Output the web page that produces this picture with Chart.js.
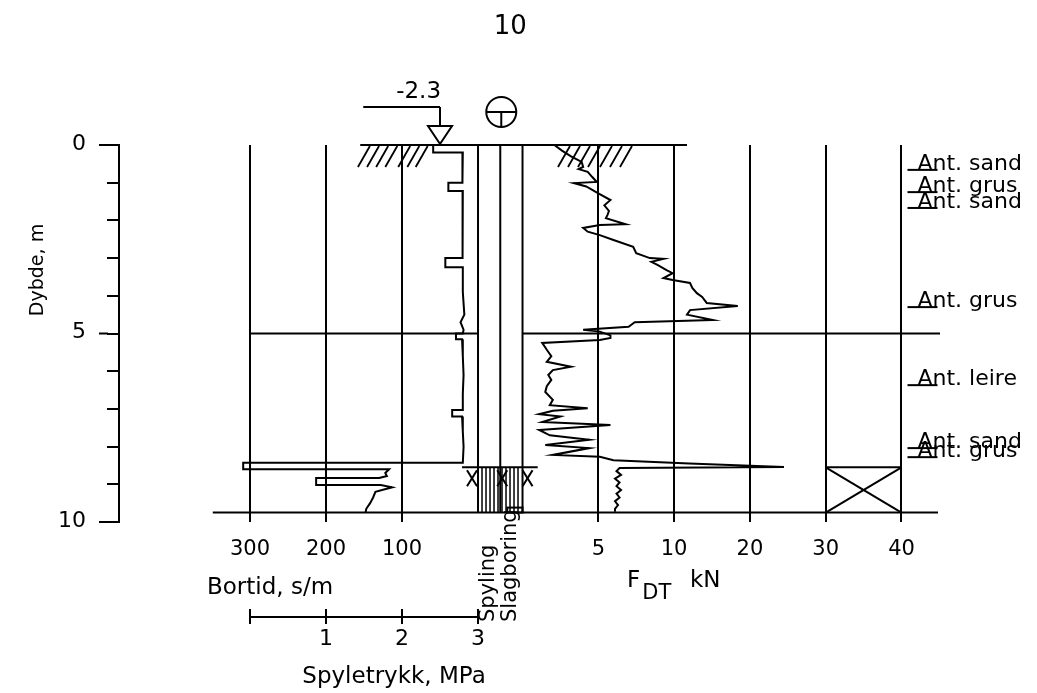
<!DOCTYPE html>
<html>
<head>
<meta charset="utf-8">
<script src="https://cdn.jsdelivr.net/npm/chart.js@4/dist/chart.umd.min.js"></script>
<style>
  html, body { margin: 0; padding: 0; background: #fff; }
  #wrap { width: 1037px; height: 693px; }
</style>
</head>
<body>
<div id="wrap"><canvas id="sounding" width="1037" height="693"></canvas></div>
<script>
// ---- data ----
const plotTitle = '10';
const groundwater = '-2.3';
const stopDepth = 9.75;
const flushStart = 8.55;

// Bortid (s/m) against depth (m)
const bortidDepth = [0, 0.2, 0.2, 0.6, 1.0, 1.0, 1.22, 1.22, 1.8, 2.4, 3.0, 3.0, 3.24, 3.24, 3.9, 4.5, 4.7, 4.9, 5.0, 5.0, 5.15, 5.15, 5.6, 6.1, 6.6, 7.03, 7.03, 7.2, 7.2, 7.6, 8.0, 8.43, 8.43, 8.6, 8.6, 8.7, 8.78, 8.83, 8.83, 9.02, 9.02, 9.08, 9.2, 9.35, 9.5, 9.65, 9.75];
const bortidTime  = [59, 59, 20, 21, 20, 39, 39, 20, 20, 21, 20, 43, 43, 20, 20, 18, 23, 19, 20, 29, 29, 21, 20, 19, 20, 20, 34, 34, 21, 20, 19, 20, 309, 309, 117, 122, 120, 130, 213, 213, 128, 113, 135, 138, 142, 147, 148];

// F_DT (kN) against depth (m)
const fdtDepth = [0.0, 0.15, 0.3, 0.45, 0.58, 0.64, 0.71, 0.85, 0.98, 1.01, 1.1, 1.19, 1.28, 1.46, 1.6, 1.75, 1.86, 1.94, 2.1, 2.12, 2.2, 2.3, 2.39, 2.52, 2.7, 2.87, 3.0, 3.02, 3.1, 3.18, 3.32, 3.4, 3.53, 3.58, 3.66, 3.79, 3.93, 4.03, 4.19, 4.27, 4.38, 4.5, 4.64, 4.7, 4.82, 4.9, 4.95, 5.05, 5.12, 5.17, 5.25, 5.43, 5.6, 5.75, 5.88, 5.97, 6.1, 6.23, 6.4, 6.55, 6.76, 6.9, 6.98, 7.05, 7.14, 7.2, 7.35, 7.43, 7.56, 7.7, 7.82, 7.96, 8.04, 8.22, 8.27, 8.36, 8.45, 8.54, 8.57, 8.65, 8.75, 8.85, 8.95, 9.05, 9.15, 9.25, 9.35, 9.45, 9.55, 9.65, 9.73];
const fdtForce = [2.1, 2.6, 3.2, 3.9, 4.0, 3.7, 4.3, 4.6, 4.9, 3.4, 4.2, 4.6, 5.0, 5.8, 5.4, 5.7, 5.6, 5.5, 6.8, 5.1, 4.0, 4.3, 5.1, 6.0, 7.3, 7.5, 8.4, 9.3, 8.5, 8.9, 9.5, 9.9, 9.3, 9.9, 12.1, 12.4, 13.0, 13.7, 14.3, 18.4, 12.1, 11.7, 15.1, 7.4, 7.0, 4.0, 5.1, 5.8, 5.8, 5.1, 1.3, 1.6, 1.9, 1.6, 3.2, 2.0, 1.7, 1.9, 1.6, 1.5, 2.0, 1.8, 4.3, 2.0, 1.1, 2.5, 1.3, 5.8, 1.1, 1.8, 4.4, 1.5, 4.4, 2.0, 5.1, 6.0, 12.0, 24.5, 6.4, 6.2, 6.5, 6.1, 6.4, 6.2, 6.5, 6.2, 6.4, 6.1, 6.3, 6.1, 6.1];

// soil notes on the right
const layerDepth = [0.66, 1.25, 1.67, 4.3, 6.37, 8.04, 8.28];
const layerLabel = ['Ant. sand', 'Ant. grus', 'Ant. sand', 'Ant. grus', 'Ant. leire', 'Ant. sand', 'Ant. grus'];

// axis ticks
const depthLabels = [0, 5, 10];
const bortidTicks = [300, 200, 100];
const fdtTicks = [5, 10, 20, 30, 40];
const pressureTicks = [1, 2, 3];

// F_DT axis is twice as dense above 10 kN
function fdtPlot(v) { return v <= 10 ? v : 10 + (v - 10) / 2; }
function fdtValue(t) { return t <= 10 ? t : 10 + (t - 10) * 2; }

const bortidPoints = bortidDepth.map((d, i) => ({ x: bortidTime[i], y: d }));
const fdtPoints = fdtDepth.map((d, i) => ({ x: fdtPlot(fdtForce[i]), y: d }));

const FONT = 'DejaVu Sans';
Chart.defaults.font.family = FONT;
Chart.defaults.color = '#000';

const drawExtras = {
  id: 'drawExtras',
  afterLayout(chart) {
    // let the bottom tick labels draw below the zero-height axes
    ['xB', 'xF'].forEach(id => { chart.scales[id].bottom = chart.height; });
  },
  afterDatasetsDraw(chart) {
    const ctx = chart.ctx;
    const a = chart.chartArea;
    const xB = chart.scales.xB, xF = chart.scales.xF, y = chart.scales.y;
    const bx = v => xB.getPixelForValue(v);
    const fx = v => xF.getPixelForValue(fdtPlot(v));
    const dy = d => y.getPixelForValue(d);
    const line = (x1, y1, x2, y2) => { ctx.beginPath(); ctx.moveTo(x1, y1); ctx.lineTo(x2, y2); ctx.stroke(); };
    const text = (s, x, yy, size, align, rot) => {
      ctx.save();
      ctx.font = size + 'px "' + FONT + '"';
      ctx.textAlign = align || 'center';
      ctx.textBaseline = 'middle';
      ctx.translate(x, yy);
      if (rot) ctx.rotate(rot);
      ctx.fillText(s, 0, 0);
      ctx.restore();
    };

    ctx.save();
    ctx.strokeStyle = '#000';
    ctx.fillStyle = '#000';
    ctx.lineWidth = 2;

    const x0 = bx(0), xr = fx(0), xm = (x0 + xr) / 2;

    // longer major ticks on the depth axis
    depthLabels.forEach(d => line(a.left - 20, dy(d), a.left - 11, dy(d)));

    // ground surface, 5 m line and stop depth
    line(bx(155), dy(0), fx(11.7), dy(0));
    line(bx(300), dy(5), x0, dy(5));
    line(xr, dy(5), a.right, dy(5));
    line(bx(349), dy(stopDepth), a.right - 2, dy(stopDepth));

    // centre column (Spyling / Slagboring)
    [x0, xm, xr].forEach(x => line(x, dy(0), x, dy(stopDepth)));
    line(bx(21), dy(flushStart), fx(1.0), dy(flushStart));
    ctx.lineWidth = 1.5;
    for (let x = x0 + 4; x < xr - 1; x += 4) line(x, dy(flushStart), x, dy(stopDepth));
    ctx.lineWidth = 2;
    ctx.strokeRect(xm + 7, dy(stopDepth) - 5, xr - xm - 7, 5);
    [x0 - 6, xm + 2, xr + 5].forEach(cx => {
      const t = dy(flushStart) + 3, b = t + 16;
      line(cx - 5, t, cx + 5, b);
      line(cx + 5, t, cx - 5, b);
    });

    // crossed box in F_DT field
    const bl = fx(30), br = fx(40), bt = dy(flushStart), bb = dy(stopDepth);
    line(bl, bt, br, bt);
    line(bl, bt, br, bb);
    line(bl, bb, br, bt);

    // ground hatching
    ctx.lineWidth = 1.8;
    [158, 146, 134, 122, 105, 93, 82].forEach(v => line(bx(v), dy(0) + 22, bx(v) + 12, dy(0) + 1));
    [2.34, 3.0, 3.66, 4.32, 5.11, 5.77, 6.43].forEach(v => line(fx(v), dy(0) + 22, fx(v) + 12, dy(0) + 1));
    ctx.lineWidth = 2;

    // groundwater symbol
    const gx = bx(50), gt = a.top;
    line(bx(151), gt - 38, gx, gt - 38);
    line(gx, gt - 38, gx, gt - 19);
    ctx.beginPath();
    ctx.moveTo(gx - 12, gt - 19);
    ctx.lineTo(gx + 12, gt - 19);
    ctx.lineTo(gx, gt - 1);
    ctx.closePath();
    ctx.stroke();
    text(groundwater, gx + 1, gt - 53, 23, 'right');

    // total sounding symbol
    const cx = xm + 1, cy = a.top - 33;
    ctx.beginPath();
    ctx.arc(cx, cy, 15, 0, Math.PI * 2);
    ctx.stroke();
    line(cx - 15, cy, cx + 15, cy);
    line(cx, cy, cx, cy + 15);

    // soil notes
    layerDepth.forEach((d, i) => {
      const ly = dy(d);
      line(br + 6, ly, br + 36, ly);
      ctx.save();
      ctx.font = '22px "' + FONT + '"';
      ctx.textAlign = 'left';
      ctx.textBaseline = 'alphabetic';
      ctx.fillText(layerLabel[i], br + 16, ly);
      ctx.restore();
    });

    // bottom legends
    const yb = a.bottom;
    text('Bortid, s/m', bx(300) - 43, yb + 66, 23, 'left');
    const py = yb + 95;
    line(bx(300), py, bx(0), py);
    line(bx(300), py - 8, bx(300), py + 7);
    pressureTicks.forEach(p => {
      const px = bx(300 - 100 * p);
      line(px, py - 8, px, py + 7);
      text(String(p), px, yb + 117, 22, 'center');
    });
    text('Spyletrykk, MPa', (bx(300) + bx(0)) / 2 + 30, yb + 155, 23, 'center');
    text('Spyling', x0 + 11, yb + 100, 21, 'left', -Math.PI / 2);
    text('Slagboring', xr - 12, yb + 100, 21, 'left', -Math.PI / 2);

    text('F', fx(6.9), yb + 59, 23, 'left');
    text('DT', fx(7.9), yb + 72, 21, 'left');
    text('kN', fx(12.1), yb + 59, 23, 'left');

    // title and depth axis title
    text(plotTitle, xm + 10, 27, 26, 'center');
    text('Dybde, m', 38, 270, 19, 'center', -Math.PI / 2);

    ctx.restore();
  }
};

const ctx = document.getElementById('sounding').getContext('2d');
new Chart(ctx, {
  type: 'scatter',
  data: {
    datasets: [
      {
        label: 'Bortid',
        data: bortidPoints,
        xAxisID: 'xB',
        yAxisID: 'y',
        showLine: true,
        borderColor: '#000',
        borderWidth: 2,
        pointRadius: 0,
        tension: 0
      },
      {
        label: 'FDT',
        data: fdtPoints,
        xAxisID: 'xF',
        yAxisID: 'y',
        showLine: true,
        borderColor: '#000',
        borderWidth: 2,
        pointRadius: 0,
        tension: 0
      }
    ]
  },
  options: {
    responsive: false,
    animation: false,
    devicePixelRatio: 1,
    layout: { padding: { left: 0, top: 145, right: 97, bottom: 171 } },
    plugins: {
      legend: { display: false },
      tooltip: { enabled: false },
      title: { display: false }
    },
    scales: {
      y: {
        type: 'linear',
        position: 'left',
        min: 0,
        max: 10,
        reverse: true,
        afterFit: s => { s.width = 119; },
        afterBuildTicks: s => { s.ticks = Array.from({ length: 11 }, (_, i) => ({ value: i })); },
        ticks: {
          callback: v => depthLabels.includes(v) ? String(v) : '',
          padding: 21,
          labelOffset: -1,
          font: { size: 22 },
          color: '#000'
        },
        grid: { drawOnChartArea: false, tickLength: 12, color: '#000', lineWidth: 2 },
        border: { display: true, color: '#000', width: 2 }
      },
      xB: {
        type: 'linear',
        position: 'bottom',
        min: -607.9,
        max: 472.4,
        reverse: true,
        afterFit: s => { s.height = 0; },
        afterBuildTicks: s => { s.ticks = bortidTicks.map(v => ({ value: v })); },
        ticks: { font: { size: 21 }, padding: 15, color: '#000', maxRotation: 0, autoSkip: false },
        grid: { drawTicks: false, color: '#000', lineWidth: 2 },
        border: { display: false }
      },
      xF: {
        type: 'linear',
        position: 'bottom',
        min: -26.62,
        max: 27.54,
        afterFit: s => { s.height = 0; },
        afterBuildTicks: s => { s.ticks = fdtTicks.map(v => ({ value: fdtPlot(v) })); },
        ticks: {
          callback: t => String(Math.round(fdtValue(t))),
          font: { size: 21 },
          padding: 15,
          color: '#000',
          maxRotation: 0,
          autoSkip: false
        },
        grid: { drawTicks: false, color: '#000', lineWidth: 2 },
        border: { display: false }
      }
    }
  },
  plugins: [drawExtras]
});
</script>
</body>
</html>
